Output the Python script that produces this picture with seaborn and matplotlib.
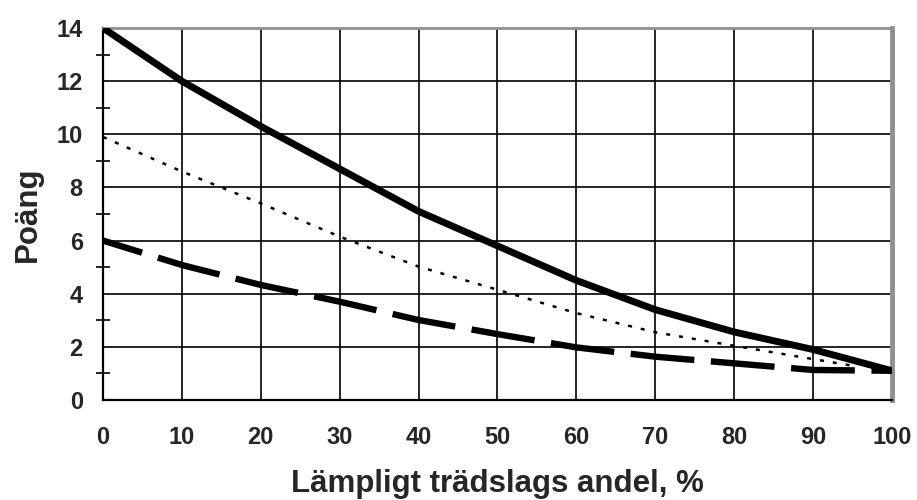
import matplotlib
matplotlib.use("Agg")
import matplotlib.pyplot as plt
import seaborn as sns
import pandas as pd
from matplotlib.ticker import MultipleLocator

x_solid = [0, 10, 20, 30, 40, 50, 60, 70, 80, 90, 100]
y_solid = [14.0, 12.0, 10.3, 8.7, 7.1, 5.8, 4.5, 3.4, 2.56, 1.9, 1.1]

x_dotted = [0, 10, 20, 30, 40, 50, 60, 70, 80, 90, 95]
y_dotted = [9.9, 8.6, 7.4, 6.15, 5.02, 4.15, 3.27, 2.55, 2.04, 1.54, 1.29]

x_dashed = [0, 10, 20, 30, 40, 50, 60, 70, 80, 90, 100]
y_dashed = [6.0, 5.08, 4.33, 3.7, 3.01, 2.48, 1.98, 1.63, 1.38, 1.13, 1.1]

x_ticks = [0, 10, 20, 30, 40, 50, 60, 70, 80, 90, 100]
y_ticks = [0, 2, 4, 6, 8, 10, 12, 14]

sns.set_style("white")
plt.rcParams['font.family'] = ['Liberation Sans', 'DejaVu Sans']

fig = plt.figure(figsize=(9.17, 5.0), dpi=100)
ax = fig.add_axes([0.1123, 0.2, 0.8604, 0.744])

df_s = pd.DataFrame({"x": x_solid, "y": y_solid})
df_d = pd.DataFrame({"x": x_dotted, "y": y_dotted})
df_a = pd.DataFrame({"x": x_dashed, "y": y_dashed})

sns.lineplot(data=df_s, x="x", y="y", ax=ax, color="black", linewidth=5.0,
             solid_capstyle="butt", zorder=5)
sns.lineplot(data=df_d, x="x", y="y", ax=ax, color="black", linewidth=1.8,
             zorder=5)
ax.lines[-1].set_linestyle((0, (1.6, 3.6)))
ax.lines[-1].set_dash_capstyle("butt")
sns.lineplot(data=df_a, x="x", y="y", ax=ax, color="black", linewidth=4.6,
             zorder=5)
ax.lines[-1].set_linestyle((3.6, (10, 2.6)))
ax.lines[-1].set_dash_capstyle("butt")

ax.set_xlim(0, 100)
ax.set_ylim(0, 14)
ax.set_xticks(x_ticks)
ax.set_yticks(y_ticks)
ax.yaxis.set_minor_locator(MultipleLocator(1))
ax.grid(True, which="major", color="black", linewidth=1.2)
ax.set_axisbelow(True)

ax.tick_params(axis="x", which="major", direction="out", length=6, width=1.2,
               color="black", labelsize=17, pad=13)
ax.tick_params(axis="y", which="major", direction="inout", length=11, width=1.2,
               color="black", labelsize=17, pad=9)
ax.tick_params(axis="y", which="minor", direction="inout", length=10, width=1.2,
               color="black", left=True)
for lab in ax.get_xticklabels() + ax.get_yticklabels():
    lab.set_fontweight("bold")

for s in ["left", "bottom"]:
    ax.spines[s].set_color("black")
    ax.spines[s].set_linewidth(1.6)
ax.spines["top"].set_color("#909090")
ax.spines["top"].set_linewidth(2.0)
ax.spines["right"].set_color("#909090")
ax.spines["right"].set_linewidth(3.5)
for s in ax.spines.values():
    s.set_visible(True)

ax.set_xlabel("Lämpligt trädslags andel, %", fontsize=22.5, fontweight="bold",
              labelpad=14)
ax.set_ylabel("Poäng", fontsize=22.5, fontweight="bold", labelpad=10)

fig.savefig("out.png", dpi=100)
